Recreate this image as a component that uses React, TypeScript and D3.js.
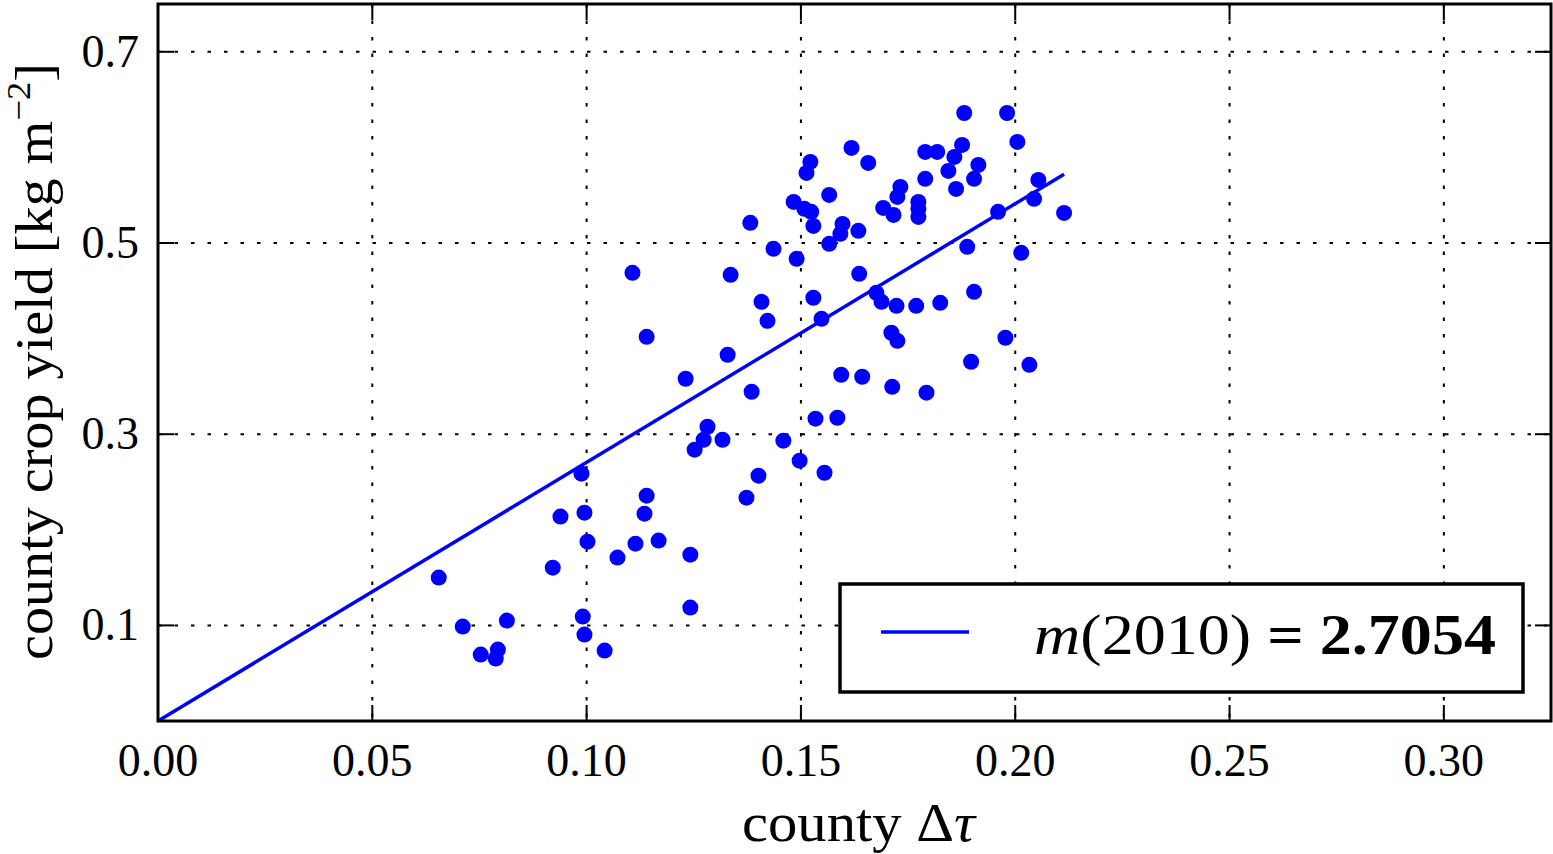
import React from "react";
import * as d3 from "d3";

// ---- data ----
const dtau: number[] = [
  0.0655, 0.0711, 0.0753, 0.0788, 0.0793, 0.0814, 0.0921, 0.0939, 0.0988, 0.0995,
  0.0991, 0.0995, 0.1002, 0.1042, 0.1072, 0.1107, 0.1114, 0.1140, 0.1135, 0.1140,
  0.1168, 0.1231, 0.1242, 0.1242, 0.1252, 0.1273, 0.1282, 0.1317, 0.1329, 0.1336,
  0.1373, 0.1382, 0.1385, 0.1401, 0.1408, 0.1422, 0.1436, 0.1459, 0.1483, 0.1490,
  0.1497, 0.1508, 0.1513, 0.1522, 0.1524, 0.1529, 0.1529, 0.1534, 0.1548, 0.1555,
  0.1566, 0.1566, 0.1585, 0.1592, 0.1597, 0.1594, 0.1618, 0.1634, 0.1636, 0.1643,
  0.1657, 0.1676, 0.1688, 0.1692, 0.1711, 0.1713, 0.1716, 0.1723, 0.1725, 0.1725,
  0.1732, 0.1769, 0.1774, 0.1774, 0.1774, 0.1793, 0.1790, 0.1790, 0.1818, 0.1825,
  0.1844, 0.1858, 0.1862, 0.1876, 0.1881, 0.1888, 0.1897, 0.1904, 0.1904, 0.1914,
  0.1960, 0.1977, 0.1981, 0.2005, 0.2014, 0.2033, 0.2044, 0.2054, 0.2114,
];
const yieldKg: number[] = [
  0.1500, 0.0988, 0.0695, 0.0653, 0.0747, 0.1050, 0.1604, 0.2138, 0.2587, 0.2179,
  0.1092, 0.0904, 0.1876, 0.0737, 0.1709, 0.4688, 0.1855, 0.2357, 0.2169, 0.4019,
  0.1887, 0.3580, 0.1740, 0.1186, 0.2838, 0.2942, 0.3078, 0.2942, 0.3831, 0.4667,
  0.2336, 0.5211, 0.3444, 0.2566, 0.4385, 0.4186, 0.4939, 0.2932, 0.5430, 0.4834,
  0.2723, 0.5357, 0.5733, 0.5848, 0.5326, 0.4427, 0.5179, 0.3162, 0.4207, 0.2597,
  0.5503, 0.4991, 0.3172, 0.5096, 0.5200, 0.3622, 0.5995, 0.5127, 0.4678, 0.3601,
  0.5838, 0.4479, 0.4385, 0.5367, 0.4061, 0.3496, 0.5294, 0.4343, 0.5482, 0.3977,
  0.5587, 0.4343, 0.5430, 0.5357, 0.5273, 0.3434, 0.5671, 0.5953, 0.5953, 0.4374,
  0.5754, 0.5900, 0.5566, 0.6026, 0.6360, 0.4960, 0.3758, 0.5671, 0.4489, 0.5817,
  0.5326, 0.4009, 0.6360, 0.6057, 0.4897, 0.3726, 0.5462, 0.5660, 0.5315,
];
const slope = 2.7054;
const slopeYear = "2010";
const xTicks: number[] = [0, 0.05, 0.1, 0.15, 0.2, 0.25, 0.3];
const yTicks: number[] = [0.1, 0.3, 0.5, 0.7];
const xDomain: [number, number] = [0, 0.325];
const yDomain: [number, number] = [0, 0.75];

const W = 1553;
const H = 854;
const left = 158;
const right = 1551;
const top = 4;
const bottom = 721;
const FONT = "'Liberation Serif', 'DejaVu Serif', serif";
const BLUE = "#0000ff";

export default function App() {
  const x = d3.scaleLinear().domain(xDomain).range([left, right]);
  const y = d3.scaleLinear().domain(yDomain).range([bottom, top]);
  const xMax = d3.max(dtau) as number;
  const lineGen = d3
    .line<number>()
    .x((d) => x(d))
    .y((d) => y(d * slope));
  const tickLen = 16;

  return (
    <svg
      width={W}
      height={H}
      style={{ position: "absolute", left: 0, top: 0, background: "#fff" }}
      fontFamily={FONT}
    >
      <rect x={0} y={0} width={W} height={H} fill="#fff" />
      {/* grid */}
      {xTicks.slice(1).map((t) => (
        <line
          key={"gx" + t}
          x1={x(t)}
          x2={x(t)}
          y1={top}
          y2={bottom}
          stroke="#000"
          strokeWidth={2}
          strokeDasharray="3.5 13"
        />
      ))}
      {yTicks.map((t) => (
        <line
          key={"gy" + t}
          x1={left}
          x2={right}
          y1={y(t)}
          y2={y(t)}
          stroke="#000"
          strokeWidth={2}
          strokeDasharray="3.5 13"
        />
      ))}
      {/* ticks */}
      {xTicks.map((t) => (
        <g key={"tx" + t}>
          <line x1={x(t)} x2={x(t)} y1={bottom} y2={bottom - tickLen} stroke="#000" strokeWidth={2} />
          <line x1={x(t)} x2={x(t)} y1={top} y2={top + tickLen} stroke="#000" strokeWidth={2} />
          <text x={x(t)} y={776} fontSize={46} textAnchor="middle" fill="#000">
            {d3.format(".2f")(t)}
          </text>
        </g>
      ))}
      {yTicks.map((t) => (
        <g key={"ty" + t}>
          <line x1={left} x2={left + tickLen} y1={y(t)} y2={y(t)} stroke="#000" strokeWidth={2} />
          <line x1={right} x2={right - tickLen} y1={y(t)} y2={y(t)} stroke="#000" strokeWidth={2} />
          <text x={139} y={y(t) + 15} fontSize={46} textAnchor="end" fill="#000">
            {d3.format(".1f")(t)}
          </text>
        </g>
      ))}
      {/* points */}
      {dtau.map((d, i) => (
        <circle key={"p" + i} cx={x(d)} cy={y(yieldKg[i])} r={8} fill={BLUE} />
      ))}
      {/* regression line */}
      <path d={lineGen([0, xMax]) || ""} stroke={BLUE} strokeWidth={3.5} fill="none" />
      {/* frame */}
      <rect
        x={left}
        y={top}
        width={right - left}
        height={bottom - top}
        fill="none"
        stroke="#000"
        strokeWidth={3}
      />
      {/* legend */}
      <rect x={840} y={584} width={683} height={108} fill="#fff" stroke="#000" strokeWidth={3.5} />
      <line x1={881} x2={969} y1={632} y2={632} stroke={BLUE} strokeWidth={3.5} />
      <text x={1034} y={654} fontSize={58} fill="#000" textLength={462} lengthAdjust="spacingAndGlyphs">
        <tspan fontStyle="italic">m</tspan>
        <tspan>({slopeYear})</tspan>
        <tspan fontWeight="bold"> = {slope.toFixed(4)}</tspan>
      </text>
      {/* axis labels */}
      <text
        x={742}
        y={841}
        fontSize={54}
        fill="#000"
        textLength={233}
        lengthAdjust="spacingAndGlyphs"
      >
        county Δ<tspan fontStyle="italic">τ</tspan>
      </text>
      <text
        transform="translate(52,660) rotate(-90)"
        fontSize={52}
        fill="#000"
        textLength={597}
        lengthAdjust="spacingAndGlyphs"
      >
        county crop yield [kg m
        <tspan fontSize={34} dy={-22}>−2</tspan>
        <tspan dy={22}>]</tspan>
      </text>
    </svg>
  );
}
